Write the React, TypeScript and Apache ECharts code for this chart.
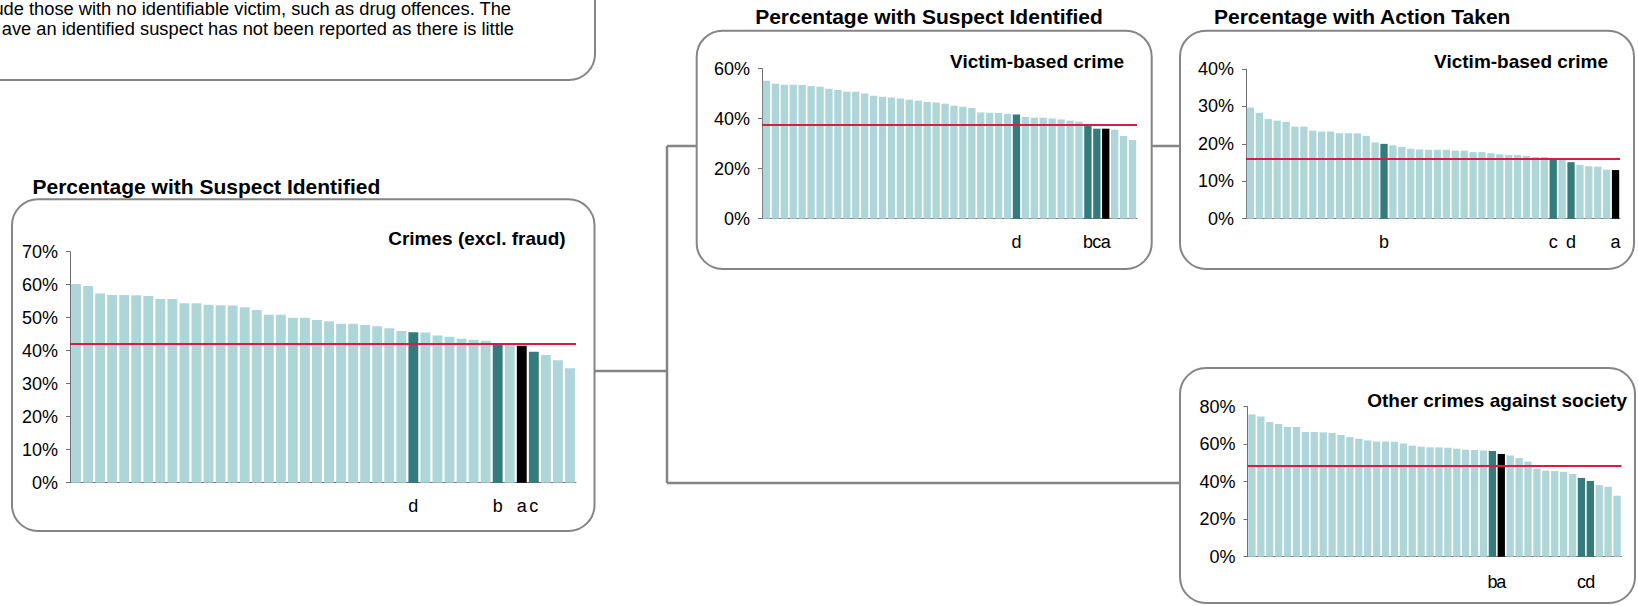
import React, { useEffect, useRef } from "react";
import * as echarts from "echarts";

// ---------- data ----------
const mainValues = [60.2, 59.6, 57.3, 56.9, 56.9, 56.8, 56.6, 55.7, 55.7, 54.4, 54.4, 53.9, 53.8, 53.7, 53.2, 52.3, 50.9, 50.9, 50.0, 50.0, 49.3, 48.9, 48.2, 48.2, 47.8, 47.4, 46.8, 46.0, 45.6, 45.5, 44.6, 44.2, 43.6, 43.3, 43.0, 41.7, 41.7, 41.5, 39.7, 38.7, 37.1, 34.7];
const mainMarks: Record<number, string> = { 28: "d", 35: "b", 37: "a", 38: "c" };
const mainAverage = 42.1;

const victimSuspectValues = [55.2, 54.0, 53.6, 53.6, 53.5, 53.1, 52.8, 52.0, 51.5, 50.8, 50.8, 50.1, 49.2, 48.8, 48.5, 48.1, 47.6, 47.2, 46.7, 46.5, 46.0, 45.2, 44.8, 44.3, 42.5, 42.4, 42.3, 42.0, 41.7, 40.7, 40.4, 40.4, 40.1, 39.7, 39.2, 38.8, 37.6, 36.0, 36.0, 35.6, 33.1, 31.5];
const victimSuspectMarks: Record<number, string> = { 28: "d", 36: "b", 37: "c", 38: "a" };
const victimSuspectAverage = 37.7;

const victimActionValues = [29.7, 28.3, 26.6, 26.2, 25.9, 24.6, 24.6, 23.5, 23.3, 23.3, 22.8, 22.8, 22.8, 22.1, 20.4, 20.0, 19.6, 19.2, 18.7, 18.5, 18.4, 18.4, 18.4, 18.2, 18.2, 17.8, 17.8, 17.5, 17.2, 17.0, 17.0, 16.8, 16.5, 16.5, 16.1, 15.9, 15.1, 14.4, 14.0, 13.9, 13.1, 13.0];
const victimActionMarks: Record<number, string> = { 15: "b", 34: "c", 36: "d", 41: "a" };
const victimActionAverage = 16.0;

const societyValues = [75.9, 74.8, 71.8, 70.8, 69.2, 69.2, 66.5, 66.5, 66.3, 66.0, 64.9, 63.8, 62.9, 62.0, 61.5, 61.5, 61.3, 60.4, 59.2, 58.7, 58.3, 58.3, 58.1, 57.6, 57.1, 56.9, 56.7, 56.4, 54.8, 54.0, 52.6, 50.7, 46.9, 45.9, 45.7, 45.3, 44.1, 42.0, 40.4, 38.2, 37.3, 32.5];
const societyMarks: Record<number, string> = { 27: "b", 28: "a", 37: "c", 38: "d" };
const societyAverage = 48.4;

const introLines = [
  "ude those with no identifiable victim, such as drug offences. The",
  "ave an identified suspect has not been reported as there is little",
];
const titleSuspect = "Percentage with Suspect Identified";
const titleAction = "Percentage with Action Taken";
const subMain = "Crimes (excl. fraud)";
const subVictim = "Victim-based crime";
const subSociety = "Other crimes against society";

// ---------- style ----------
const FONT = "'Liberation Sans', Arial, Helvetica, sans-serif";
const LIGHT = "#AED5D8";
const DARK = "#347B7D";
const BLACK = "#000000";
const RED = "#DC1A43";
const FRAME = "#858585";
const AXIS = "#6E6E6E";

type Panel = {
  values: number[];
  marks: Record<number, string>;
  avg: number;
  max: number;
  interval: number;
  grid: { left: number; top: number; width: number; height: number };
  labelMargin: number;
};

const panels: Panel[] = [
  { values: mainValues, marks: mainMarks, avg: mainAverage, max: 70, interval: 10, grid: { left: 70, top: 251.7, width: 506, height: 231 }, labelMargin: 14 },
  { values: victimSuspectValues, marks: victimSuspectMarks, avg: victimSuspectAverage, max: 60, interval: 20, grid: { left: 762, top: 68.7, width: 375, height: 150 }, labelMargin: 14 },
  { values: victimActionValues, marks: victimActionMarks, avg: victimActionAverage, max: 40, interval: 10, grid: { left: 1246, top: 69, width: 374, height: 149.7 }, labelMargin: 14 },
  { values: societyValues, marks: societyMarks, avg: societyAverage, max: 80, interval: 20, grid: { left: 1247.5, top: 406.7, width: 374, height: 150 }, labelMargin: 16 },
];

function buildOption() {
  const grids: any[] = [];
  const xAxes: any[] = [];
  const yAxes: any[] = [];
  const series: any[] = [];
  panels.forEach((p, i) => {
    grids.push({ ...p.grid, containLabel: false });
    xAxes.push({
      type: "category",
      gridIndex: i,
      data: p.values.map((_, k) => p.marks[k] || ""),
      axisLine: { show: true, lineStyle: { color: AXIS, width: 1 } },
      axisTick: { show: false },
      axisLabel: { interval: 0, hideOverlap: false, margin: p.labelMargin, fontSize: 18, color: "#000", fontFamily: FONT },
      splitLine: { show: false },
    });
    yAxes.push({
      type: "value",
      gridIndex: i,
      min: 0,
      max: p.max,
      interval: p.interval,
      axisLine: { show: true, lineStyle: { color: AXIS, width: 1 } },
      axisTick: { show: true, length: 4, inside: false, lineStyle: { color: AXIS } },
      axisLabel: { formatter: "{value}%", margin: 12, fontSize: 18, color: "#000", fontFamily: FONT },
      splitLine: { show: false },
    });
    series.push({
      type: "bar",
      xAxisIndex: i,
      yAxisIndex: i,
      barCategoryGap: "18%",
      data: p.values.map((v, k) => {
        const m = p.marks[k];
        return { value: v, itemStyle: { color: m === "a" ? BLACK : m ? DARK : LIGHT } };
      }),
      markLine: {
        silent: true,
        symbol: ["none", "none"],
        label: { show: false },
        lineStyle: { color: RED, width: 2, type: "solid" },
        data: [{ yAxis: p.avg }],
      },
    });
  });

  const box = (x: number, y: number, w: number, h: number) => ({
    type: "rect",
    shape: { x, y, width: w, height: h, r: 26 },
    style: { fill: "transparent", stroke: FRAME, lineWidth: 2 },
    z: 1,
  });
  const line = (x1: number, y1: number, x2: number, y2: number) => ({
    type: "line",
    shape: { x1, y1, x2, y2 },
    style: { stroke: FRAME, lineWidth: 2.5 },
    z: 1,
  });
  const text = (t: string, x: number, y: number, size: number, bold: boolean, align: string) => ({
    type: "text",
    x,
    y,
    style: { text: t, fontSize: size, fontWeight: bold ? "bold" : "normal", fill: "#000", fontFamily: FONT, align, verticalAlign: "middle" },
    z: 5,
  });

  const graphic = [
    box(-40, -100, 635, 180),
    box(12, 199.3, 582.5, 331.7),
    box(696.7, 30.7, 455, 238.3),
    box(1180, 30.7, 454, 238.3),
    box(1180, 368, 455, 235),
    line(594, 371, 667, 371),
    line(667, 146, 667, 483),
    line(667, 146, 696.7, 146),
    line(667, 483, 1180, 483),
    line(1151.7, 146, 1180, 146),
    text(introLines[0], 511, 8.5, 18.3, false, "right"),
    text(introLines[1], 514, 28.5, 18.3, false, "right"),
    text(titleSuspect, 32.5, 186.7, 21, true, "left"),
    text(titleSuspect, 929, 16.7, 21, true, "center"),
    text(titleAction, 1214, 16.7, 21, true, "left"),
    text(subMain, 565.6, 238, 19, true, "right"),
    text(subVictim, 1124, 61.7, 19, true, "right"),
    text(subVictim, 1608, 61.7, 19, true, "right"),
    text(subSociety, 1627, 400, 19, true, "right"),
  ];

  return {
    animation: false,
    backgroundColor: "#ffffff",
    textStyle: { fontFamily: FONT },
    grid: grids,
    xAxis: xAxes,
    yAxis: yAxes,
    series,
    graphic,
  };
}

export default function App() {
  const ref = useRef<HTMLDivElement>(null);
  useEffect(() => {
    if (!ref.current) return;
    const chart = echarts.init(ref.current, null, { renderer: "svg" });
    chart.setOption(buildOption() as any);
    return () => chart.dispose();
  }, []);
  return <div ref={ref} style={{ position: "absolute", left: 0, top: 0, width: 1638, height: 606 }} />;
}
